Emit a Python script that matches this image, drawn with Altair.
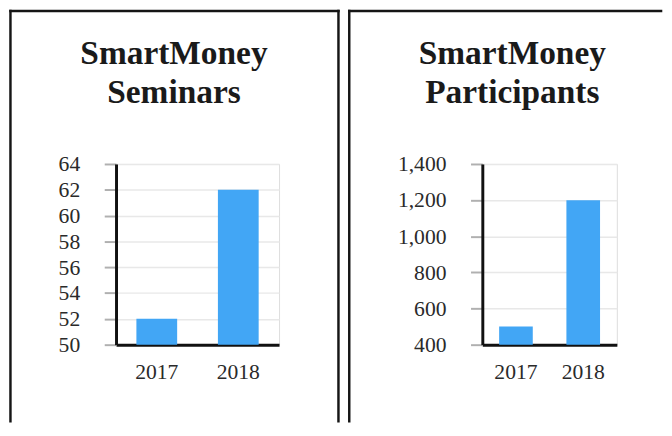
import altair as alt
import pandas as pd

years = ["2017", "2018"]
seminars = [52, 62]
participants = [500, 1200]
seminar_ticks = [50, 52, 54, 56, 58, 60, 62, 64]
participant_ticks = [400, 600, 800, 1000, 1200, 1400]

BAR = "#42a6f5"
SERIF = "Liberation Serif"
FRAME = "#151515"


def panel(values, ticks, title_lines, w, fmt, dx, frame_left, frame_right, top_right):
    df = pd.DataFrame({"year": years, "value": values, "base": [ticks[0]] * len(years)})
    base = alt.Chart(df)
    yscale = alt.Scale(domain=[ticks[0], ticks[-1]], zero=False, nice=False)
    bars = base.mark_bar(color=BAR).encode(
        x=alt.X(
            "year:N",
            scale=alt.Scale(paddingInner=0.5, paddingOuter=0.25),
            axis=alt.Axis(
                title=None, labelAngle=0, ticks=False, labelFont=SERIF, labelFontSize=22,
                labelColor="#2a2a2a", labelPadding=17, domainColor="#111", domainWidth=3,
                grid=False,
            ),
        ),
        y=alt.Y(
            "value:Q",
            scale=yscale,
            axis=alt.Axis(
                title=None, values=ticks, format=fmt, labelFont=SERIF, labelFontSize=22,
                labelColor="#2a2a2a", labelPadding=25, tickSize=12, tickWidth=2,
                tickColor="#b0b0b0", domainColor="#111", domainWidth=3, grid=True,
                gridColor="#e8e8e8", gridWidth=1.5,
            ),
        ),
        y2="base:Q",
    )
    fr = alt.Chart(pd.DataFrame({"k": [0]}))
    ftop = -155.75
    fbottom = 262
    rules = [
        fr.mark_rule(color=FRAME, strokeWidth=2.5, strokeCap="square").encode(
            x=alt.value(frame_left), y=alt.value(ftop), y2=alt.value(fbottom)
        ),
        fr.mark_rule(color=FRAME, strokeWidth=2.5, strokeCap="square").encode(
            x=alt.value(frame_left), x2=alt.value(top_right), y=alt.value(ftop)
        ),
    ]
    if frame_right is not None:
        rules.append(
            fr.mark_rule(color=FRAME, strokeWidth=2.5, strokeCap="square").encode(
                x=alt.value(frame_right), y=alt.value(ftop), y2=alt.value(fbottom)
            )
        )
    return alt.layer(bars, *rules).properties(
        width=w,
        height=184,
        title=alt.TitleParams(
            text=title_lines, font=SERIF, fontSize=34, fontWeight="bold", color="#1a1a1a",
            lineHeight=39, baseline="alphabetic", anchor="middle", frame="group",
            offset=-129, dx=dx,
        ),
    )


left = panel(seminars, seminar_ticks, ["SmartMoney", "Seminars"], 166, "d", -24, -107.5, 226.5, 226.5)
right = panel(participants, participant_ticks, ["SmartMoney", "Participants"], 137, ",d", -38, -135.5, None, 182)

chart = alt.hconcat(left, right, spacing=6).properties(
    padding={"left": 0, "top": -4, "right": 0, "bottom": 0}
).configure_view(strokeWidth=0).configure(background="white")

chart.save("out.html", embed_options={"renderer": "svg", "actions": False})
